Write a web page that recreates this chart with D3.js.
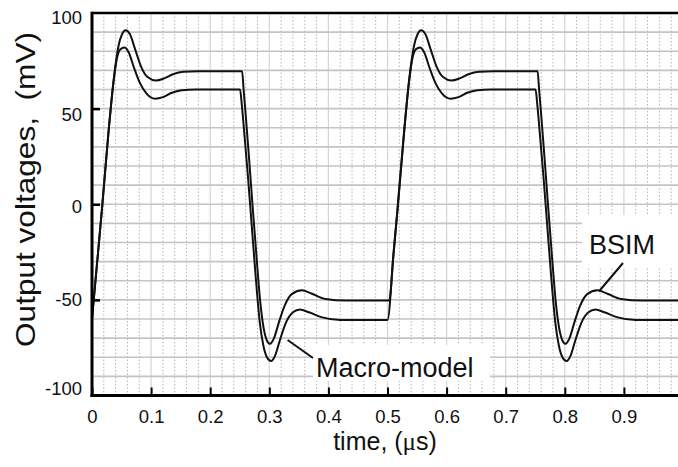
<!DOCTYPE html>
<html>
<head>
<meta charset="utf-8">
<script src="https://cdn.jsdelivr.net/npm/d3@7"></script>
<style>
  html, body { margin: 0; padding: 0; background: #fff; }
  svg { display: block; }
  text { font-family: Arial, "Liberation Sans", sans-serif; fill: #111; }
</style>
</head>
<body>
<svg id="chart" width="678" height="467"></svg>
<script>
// ---------------- data ----------------
const xTickValues = [0, 0.1, 0.2, 0.3, 0.4, 0.5, 0.6, 0.7, 0.8, 0.9];
const xTickLabels = ["0", "0.1", "0.2", "0.3", "0.4", "0.5", "0.6", "0.7", "0.8", "0.9"];
const yTickValues = [100, 50, 0, -50, -100];
const yTickLabels = ["100", "50", "0", "-50", "-100"];

// BSIM (upper trace), time in µs, voltage in mV
const bsimTime = [
  0, 0.01, 0.017, 0.028, 0.037, 0.045, 0.051, 0.057, 0.064, 0.073, 0.083, 0.094, 0.108, 0.122, 0.137, 0.155, 0.18, 0.22, 0.254,
  0.2565, 0.26, 0.266, 0.272, 0.279, 0.285, 0.29, 0.295, 0.301, 0.308, 0.316, 0.326, 0.338, 0.355, 0.372, 0.395, 0.43, 0.47, 0.503,
  0.51, 0.517, 0.528, 0.537, 0.545, 0.551, 0.557, 0.564, 0.573, 0.583, 0.594, 0.608, 0.622, 0.637, 0.655, 0.68, 0.72, 0.754,
  0.7565, 0.76, 0.766, 0.772, 0.779, 0.785, 0.79, 0.795, 0.801, 0.808, 0.816, 0.826, 0.838, 0.855, 0.872, 0.895, 0.93, 0.97, 1.0
];
const bsimValue = [
  -60, -26, -2, 38, 66, 83, 89, 91, 89, 81, 72, 66.5, 64.7, 65.8, 68, 69.3, 69.6, 69.5, 69.5,
  60, 47, 23, -2, -30, -52, -64, -70.5, -73, -70, -62, -53, -47, -45, -46.8, -49.5, -50.3, -50.3, -50.3,
  -26, -2, 38, 66, 83, 89, 91, 89, 81, 72, 66.5, 64.7, 65.8, 68, 69.3, 69.6, 69.5, 69.5,
  60, 47, 23, -2, -30, -52, -64, -70.5, -73, -70, -62, -53, -47, -45, -46.8, -49.5, -50.3, -50.3, -50.3
];

// Macro-model (lower trace)
const macroTime = [
  0, 0.01, 0.017, 0.028, 0.036, 0.042, 0.048, 0.055, 0.062, 0.071, 0.081, 0.092, 0.107, 0.12, 0.135, 0.152, 0.175, 0.22, 0.2505,
  0.2535, 0.258, 0.264, 0.27, 0.277, 0.284, 0.29, 0.296, 0.303, 0.31, 0.318, 0.328, 0.34, 0.352, 0.367, 0.388, 0.42, 0.46, 0.5,
  0.51, 0.517, 0.528, 0.536, 0.542, 0.548, 0.555, 0.562, 0.571, 0.581, 0.592, 0.607, 0.62, 0.635, 0.652, 0.675, 0.72, 0.7505,
  0.7535, 0.758, 0.764, 0.77, 0.777, 0.784, 0.79, 0.796, 0.803, 0.81, 0.818, 0.828, 0.84, 0.852, 0.867, 0.888, 0.92, 0.96, 1.0
];
const macroValue = [
  -60, -26, -2, 38, 63, 76, 81, 82, 79.5, 71.5, 63.5, 58, 55.2, 56, 58.3, 59.6, 60, 60, 60,
  52, 36, 14, -10, -38, -62, -74, -80, -82, -79, -71, -62, -56.5, -55, -56.5, -59, -60.5, -60.5, -60.5,
  -27, -3, 37, 63, 76, 81, 82, 79.5, 71.5, 63.5, 58, 55.2, 56, 58.3, 59.6, 60, 60, 60,
  52, 36, 14, -10, -38, -62, -74, -80, -82, -79, -71, -62, -56.5, -55, -56.5, -59, -60.5, -60.5, -60.5
];

const xMinorGrid = d3.range(0, 51).map(i => i / 50);   // every 0.02 µs
const yGridValues = d3.range(-100, 101, 10);           // every 10 mV

// ---------------- layout ----------------
(function draw() {
const svg = d3.select("#chart");
const W = 678, H = 467;
const pL = 92, pR = 683, pT = 13, pB = 395.5;

const x = d3.scaleLinear().domain([0, 1]).range([pL, pR]);
const y = d3.scaleLinear().domain([-100, 100]).range([pB, pT]);

svg.append("defs").append("clipPath").attr("id", "plotclip")
  .append("rect").attr("x", pL).attr("y", pT).attr("width", pR - pL).attr("height", pB - pT);

const grid = svg.append("g").attr("clip-path", "url(#plotclip)");

grid.selectAll("line.vminor")
  .data(xMinorGrid.filter((d, i) => i % 5 !== 0))
  .join("line")
  .attr("x1", d => x(d)).attr("x2", d => x(d))
  .attr("y1", pT).attr("y2", pB)
  .attr("stroke", "#b4b4b4").attr("stroke-width", 1).attr("stroke-dasharray", "1.5,2");

grid.selectAll("line.vmajor")
  .data(xMinorGrid.filter((d, i) => i % 5 === 0 && i > 0))
  .join("line")
  .attr("x1", d => x(d)).attr("x2", d => x(d))
  .attr("y1", pT).attr("y2", pB)
  .attr("stroke", "#d4d4d4").attr("stroke-width", 1.2);

grid.selectAll("line.h")
  .data(yGridValues)
  .join("line")
  .attr("x1", pL).attr("x2", pR)
  .attr("y1", d => y(d)).attr("y2", d => y(d))
  .attr("stroke", "#c4c4c4").attr("stroke-width", 1.6);

// ---------------- curves ----------------
const line = d3.line().x(d => x(d[0])).y(d => y(d[1])).curve(d3.curveMonotoneX);
const bsim = bsimTime.map((t, i) => [t, bsimValue[i]]);
const macro = macroTime.map((t, i) => [t, macroValue[i]]);

const curves = svg.append("g").attr("clip-path", "url(#plotclip)");
[macro, bsim].forEach(s => {
  curves.append("path").datum(s).attr("d", line)
    .attr("fill", "none").attr("stroke", "#111").attr("stroke-width", 2);
});

// ---------------- annotations ----------------
svg.append("rect").attr("x", 582).attr("y", 215).attr("width", 100).attr("height", 53).attr("fill", "#fff");
svg.append("rect").attr("x", 313).attr("y", 345).attr("width", 177).attr("height", 36).attr("fill", "#fff");

svg.append("line")
  .attr("x1", x(0.858)).attr("y1", y(-45.5))
  .attr("x2", 623).attr("y2", 263)
  .attr("stroke", "#111").attr("stroke-width", 2);
svg.append("text").attr("x", 589).attr("y", 254).attr("font-size", 27).text("BSIM");

svg.append("line")
  .attr("x1", x(0.331)).attr("y1", y(-71))
  .attr("x2", 313).attr("y2", 358)
  .attr("stroke", "#111").attr("stroke-width", 2);
svg.append("text").attr("x", 316).attr("y", 377).attr("font-size", 27).text("Macro-model");

// ---------------- axes ----------------
const axisStroke = "#000";
svg.append("line").attr("x1", pL).attr("x2", W).attr("y1", pT).attr("y2", pT)
  .attr("stroke", axisStroke).attr("stroke-width", 2.5);
svg.append("line").attr("x1", pL).attr("x2", pL).attr("y1", pT - 1.2).attr("y2", pB + 1.5)
  .attr("stroke", axisStroke).attr("stroke-width", 3);
svg.append("line").attr("x1", pL - 1.5).attr("x2", W).attr("y1", pB).attr("y2", pB)
  .attr("stroke", axisStroke).attr("stroke-width", 3);

const xAxis = d3.axisBottom(x).tickValues(xTickValues)
  .tickFormat((d, i) => xTickLabels[i]).tickSize(-8).tickPadding(14);
const gx = svg.append("g").attr("transform", `translate(0,${pB})`).call(xAxis);
gx.select(".domain").remove();
gx.selectAll(".tick line").attr("stroke", "#000").attr("stroke-width", 2);
gx.selectAll(".tick text").attr("font-size", 18.5).attr("font-family", "Arial, 'Liberation Sans', sans-serif").attr("fill", "#111");

const yLabelNudge = { "100": 5, "50": 6, "0": 2, "-50": 0, "-100": -6.5 };
const yAxis = d3.axisLeft(y).tickValues(yTickValues)
  .tickFormat((d, i) => yTickLabels[i]).tickSize(-8).tickPadding(10);
const gy = svg.append("g").attr("transform", `translate(${pL},0)`).call(yAxis);
gy.select(".domain").remove();
gy.selectAll(".tick line").attr("stroke", "#000").attr("stroke-width", 2.5)
  .attr("display", d => (d === 100 || d === -100) ? "none" : null);
gy.selectAll(".tick text").attr("font-size", 18.5).attr("font-family", "Arial, 'Liberation Sans', sans-serif").attr("fill", "#111")
  .attr("dy", d => (0.32 * 18.5 + yLabelNudge[String(d)]) + "px");

const xt = svg.append("text").attr("x", 385).attr("y", 450).attr("text-anchor", "middle").attr("font-size", 25);
xt.append("tspan").text("time, (");
xt.append("tspan").attr("font-family", "'Liberation Serif', 'DejaVu Serif', serif").text("μ");
xt.append("tspan").text("s)");

// y title: slightly stretched along its length, as in the reference
svg.append("text").attr("transform", "translate(35,347) rotate(-90) scale(1.17,1)")
  .attr("font-size", 27).text("Output voltages,");
svg.append("text").attr("transform", "translate(35,32) rotate(-90) scale(1.17,1)")
  .attr("text-anchor", "end").attr("font-size", 27).text("(mV)");
})();
</script>
</body>
</html>
